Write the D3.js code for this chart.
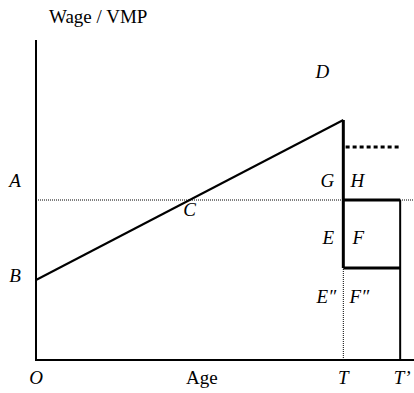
<!DOCTYPE html>
<html><head><meta charset="utf-8">
<script src="https://cdn.jsdelivr.net/npm/d3@7"></script>
</head>
<body style="margin:0;padding:0;background:#fff;">
<svg id="chart" width="414" height="393" style="display:block"></svg>
<script>
// ---- data ----
const ageMarks = {O: 0, T: 40, Tp: 47.4};          // age values
const ageMax = 49.2;
const wageMax = 100;
const wagePoints = [[0, 25], [40, 75]];            // B -> peak at T (wage/VMP profile)
const levelA = 50;                                  // A line
const levelDotted = 66.6;                           // dotted continuation after T
const levelE = 28.75;                               // pension level (bottom of E/F box)
const axisLabels = {y: "Wage / VMP", x: "Age"};

const svg = d3.select("#chart");
const x = d3.scaleLinear().domain([0, ageMax]).range([36, 414]);
const y = d3.scaleLinear().domain([0, wageMax]).range([360, 40]);
const line = d3.line().x(d => x(d[0])).y(d => y(d[1]));

function seg(pts, w, dash) {
  const p = svg.append("path").attr("d", line(pts))
    .attr("stroke", "#000").attr("stroke-width", w).attr("fill", "none");
  if (dash) p.attr("stroke-dasharray", dash);
}
seg([[0, levelA], [ageMax, levelA]], 1, "1,1");                       // A level
seg([[ageMarks.T, 0], [ageMarks.T, levelE]], 1, "1,1");              // T below box
seg([[0, wageMax], [0, 0], [ageMax, 0]], 2);                          // axes
seg(wagePoints, 2);                                                   // wage/VMP profile
seg([[ageMarks.T, wagePoints[1][1]], [ageMarks.T, levelE]], 3);      // drop at T
seg([[ageMarks.T, levelA], [ageMarks.Tp, levelA]], 3);               // box top
seg([[ageMarks.T, levelE], [ageMarks.Tp, levelE]], 3);               // box bottom
seg([[ageMarks.Tp, levelA], [ageMarks.Tp, 0]], 2);                   // T'
seg([[ageMarks.T + 0.3, levelDotted], [ageMarks.Tp, levelDotted]], 3, "4,3");

// labels
function lab(t, px, py, italic, anchor) {
  svg.append("text").attr("x", px).attr("y", py).attr("text-anchor", anchor || "middle")
    .style("font-family", "'Liberation Serif', 'Times New Roman', serif").style("font-size", "19px")
    .style("font-style", italic ? "italic" : "normal").text(t);
}
lab(axisLabels.y, 49, 23, false, "start");
lab(axisLabels.x, x(21.6), 384, false);
lab("O", x(ageMarks.O), 384, true);
lab("T", x(ageMarks.T), 384, true);
lab("T\u2019", x(ageMarks.Tp) + 2, 384, true);
lab("A", 15, y(levelA) - 13, true);
lab("B", 15, y(wagePoints[0][1]) + 2, true);
lab("C", x(20), y(levelA) + 16, true);
lab("D", x(ageMarks.T) - 21, 78, true);
lab("G", x(ageMarks.T) - 16, y(levelA) - 13, true);
lab("H", x(ageMarks.T) + 14, y(levelA) - 13, true);
lab("E", x(ageMarks.T) - 15, 244, true);
lab("F", x(ageMarks.T) + 15, 244, true);
lab("E\u2033", x(ageMarks.T) - 17, 303, true);
lab("F\u2033", x(ageMarks.T) + 16, 303, true);
</script></body></html>
